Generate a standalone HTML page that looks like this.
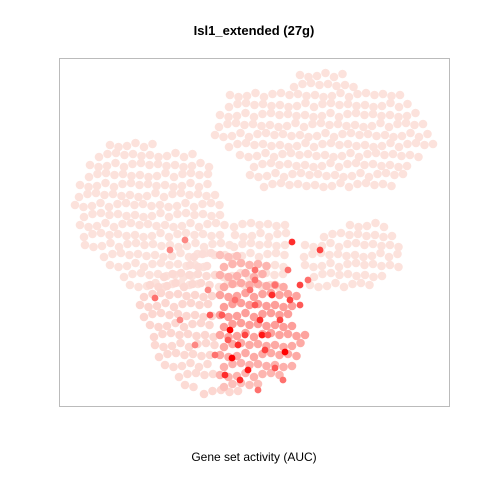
<!DOCTYPE html>
<html><head><meta charset="utf-8"><style>
body{margin:0;background:#fff;}
svg{display:block;font-family:"Liberation Sans",sans-serif;}
</style></head><body>
<svg id="chart" width="480" height="480">
<rect x="0" y="0" width="480" height="480" fill="#fff"/>
<text x="254" y="35" text-anchor="middle" font-weight="bold" font-size="13">Isl1_extended (27g)</text>
<rect x="59.5" y="58.5" width="390" height="348" fill="none" stroke="#bbb" stroke-width="1"/>
<g id="pts"></g>
<text x="254" y="461" text-anchor="middle" font-size="12">Gene set activity (AUC)</text>
</svg>
<script>
// t-SNE layout density rows: [y, xStart, xEnd, aucLevel] (data units)
const rowY = [331,321,311,301,291,281,271,261,251,241,231,221,
  261,251,241,231,221,211,201,191,181,171,161,151,141,131,121,181,171,161,151,141,131,121,
  181,171,161,151,141,131,121,
  151,141,131,121,111,101,91,81,71,61,51,41,31,21,14,
  151,141,131,121,111,101,91,81,71,61,51,41,31,21];
const rowX0 = [241,231,171,166,161,156,156,166,181,191,191,201,
  51,36,31,26,21,16,16,21,21,21,26,41,51,61,71,171,176,171,166,161,156,156,
  291,261,246,241,246,251,251,
  131,131,101,91,81,81,81,91,91,96,96,106,116,126,141,
  161,161,161,161,161,161,161,161,161,161,161,161,161,161];
const rowX1 = [286,301,341,351,361,366,371,376,361,351,346,336,
  101,141,151,156,156,161,166,166,171,166,171,161,151,141,141,231,231,231,231,231,231,221,
  331,341,346,346,341,331,311,
  156,156,156,156,156,156,156,156,156,156,156,156,156,141,186,
  181,211,211,231,241,241,236,236,246,246,241,236,226,206];
const rowAuc = [0,0,0,0,0,0,0,0,0,0,0,0,
  0,0,0,0,0,0,0,0,0,0,0,0,0,0,0,0,0,0,0,0,0,0,
  0,0,0,0,0,0,0,
  0.02,0.02,0.03,0.04,0.05,0.05,0.05,0.05,0.05,0.04,0.04,0.03,0.03,0.03,0.05,
  0.15,0.2,0.22,0.25,0.28,0.3,0.3,0.3,0.28,0.25,0.25,0.22,0.2,0.15];
// highlighted cells: x, y, AUC
const redX = [171,173,203,226,189,181,166,213,241,231,196,221,206,216,179,163,209,191,196,151,261,233,149,136,121,96,199,224,241,176,201,186,216,169,156,196,229,249,111,126];
const redY = [76,48,71,54,36,26,31,111,121,106,101,86,56,38,61,91,71,116,126,91,156,164,116,61,86,108,16,26,101,106,86,71,121,66,51,136,136,126,156,166];
const redAuc = [1,1,0.9,1,0.9,0.8,0.8,0.8,0.7,0.7,0.6,0.7,0.7,0.6,0.8,0.6,0.6,0.5,0.5,0.6,0.7,0.8,0.4,0.4,0.4,0.5,0.5,0.5,0.6,0.5,0.8,0.7,0.5,0.6,0.5,0.5,0.5,0.5,0.4,0.4];

const xS = v => 59 + v;
const yS = v => 406 - v;
const col = a => {
  const c0=[252,226,220], c1=[255,0,0];
  const c=c0.map((v,i)=>Math.round(v+(c1[i]-v)*a));
  return `rgb(${c[0]},${c[1]},${c[2]})`;
};
const g = document.getElementById('pts');
const ns = 'http://www.w3.org/2000/svg';
function dot(x,y,a,r){
  const c=document.createElementNS(ns,'circle');
  c.setAttribute('cx',xS(x)); c.setAttribute('cy',yS(y));
  c.setAttribute('r',r); c.setAttribute('fill',col(a));
  
  
  g.appendChild(c);
}
for(let i=0;i<rowY.length;i++){
  const off=(i%2)*4;
  for(let x=rowX0[i]+off;x<=rowX1[i];x+=8.5) dot(x,rowY[i]+((Math.round(x)*7)%5)-2,rowAuc[i],4.3);
}
for(let i=0;i<redX.length;i++) dot(redX[i],redY[i],redAuc[i],3.4);
</script>
</body></html>
